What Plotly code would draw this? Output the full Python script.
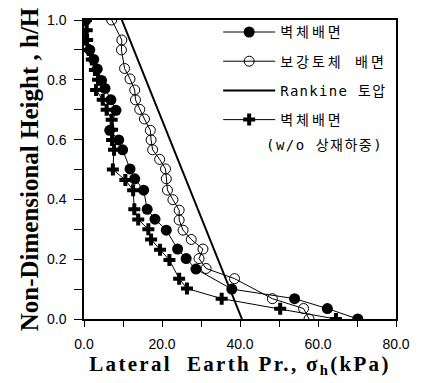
import plotly.graph_objects as go

# 벽체배면 (filled circles)
wall_x = [0.5, 0.0, 1.5, 2.5, 3.4, 4.5, 5.4, 6.9, 8.2, 6.6, 8.9, 9.9, 11.8, 13.0, 15.3,
          16.2, 18.2, 21.1, 24.0, 26.2, 28.7, 37.9, 54.0, 62.4, 70.2]
wall_h = [1.0, 0.933, 0.90, 0.868, 0.836, 0.798, 0.771, 0.733, 0.698, 0.631, 0.599, 0.566,
          0.502, 0.469, 0.431, 0.367, 0.334, 0.297, 0.234, 0.202, 0.167, 0.100, 0.068, 0.035, 0.0]

# 보강토체 배면 (open circles)
reinf_x = [7.1, 9.7, 9.6, 10.4, 11.8, 13.0, 13.2, 14.3, 15.5, 17.0, 17.2, 17.6, 19.4, 20.9,
           21.1, 21.4, 22.8, 24.4, 24.4, 25.4, 27.5, 30.5, 29.5, 31.3, 38.6, 48.3, 56.3, 57.7]
reinf_h = [1.0, 0.933, 0.90, 0.838, 0.803, 0.766, 0.733, 0.701, 0.669, 0.631, 0.599, 0.566,
           0.534, 0.502, 0.469, 0.431, 0.399, 0.364, 0.331, 0.297, 0.266, 0.234, 0.202, 0.169,
           0.135, 0.068, 0.035, 0.0]

# Rankine 토압
rankine_x = [9.7, 40.5]
rankine_h = [1.0, 0.0]

# 벽체배면 (w/o 상재하중) (crosses)
nosur_x = [0.5, 0.7, 0.8, 1.2, 2.0, 2.8, 3.6, 3.1, 4.8, 5.8, 7.1, 7.2, 7.2, 7.7, 7.4, 10.6,
           12.6, 12.9, 13.9, 16.5, 17.2, 19.5, 21.9, 24.4, 26.4, 35.3, 50.3, 64.6]
nosur_h = [1.0, 0.966, 0.933, 0.90, 0.868, 0.833, 0.80, 0.766, 0.733, 0.70, 0.666, 0.633,
           0.599, 0.566, 0.50, 0.465, 0.431, 0.367, 0.333, 0.30, 0.266, 0.232, 0.197, 0.135,
           0.102, 0.068, 0.034, 0.0]

x_ticks = [0, 20, 40, 60, 80]
x_ticklabels = ["0.0", "20.0", "40.0", "60.0", "80.0"]
y_ticks = [0, 0.2, 0.4, 0.6, 0.8, 1.0]
y_ticklabels = ["0.0", "0.2", "0.4", "0.6", "0.8", "1.0"]

names = ["벽체배면", "보강토체 배면", "Rankine 토압", "벽체배면"]
note = "(w/o 상재하중)"
x_title = "Lateral  Earth Pr., σ<sub>h</sub>(kPa)"
y_title = "Non-Dimensional Height , h/H"


def spaced(text, px):
    return '<span style="letter-spacing:%spx">%s</span>' % (px, text)


fig = go.Figure()
fig.add_trace(go.Scatter(x=wall_x, y=wall_h, mode="lines+markers", name=spaced(names[0], 3),
                         legendgroup="a",
                         line=dict(color="black", width=1),
                         marker=dict(symbol="circle", size=11, color="black")))
fig.add_trace(go.Scatter(x=reinf_x, y=reinf_h, mode="lines+markers", name=spaced(names[1], 3),
                         legendgroup="b",
                         line=dict(color="black", width=1),
                         marker=dict(symbol="circle-open", size=10, color="black",
                                     line=dict(width=1, color="black"))))
fig.add_trace(go.Scatter(x=rankine_x, y=rankine_h, mode="lines", name=spaced(names[2], 1.3),
                         legendgroup="c",
                         line=dict(color="black", width=2)))
fig.add_trace(go.Scatter(x=nosur_x, y=nosur_h, mode="lines+markers", name=spaced(names[3], 3),
                         legendgroup="d",
                         line=dict(color="black", width=1),
                         marker=dict(symbol="cross", size=10, color="black")))

fig.add_annotation(x=0.578, y=0.583, xref="paper", yref="paper", xanchor="left",
                   yanchor="middle", showarrow=False, text=spaced(note, 1.5),
                   font=dict(family="DejaVu Sans Mono, Noto Sans CJK KR", size=14,
                             color="black"))

fig.update_layout(
    width=422, height=383,
    margin=dict(l=84, r=14, t=13, b=61),
    paper_bgcolor="white", plot_bgcolor="white",
    showlegend=True,
    legend=dict(x=0.43, y=1.012, xanchor="left", yanchor="top", itemwidth=52,
                bgcolor="rgba(0,0,0,0)", traceorder="grouped", tracegroupgap=8,
                font=dict(family="DejaVu Sans Mono, Noto Sans CJK KR", size=14,
                          color="black")),
    xaxis=dict(range=[0, 80], tickvals=x_ticks, ticktext=x_ticklabels,
               ticks="outside", ticklen=6, tickcolor="black", tickwidth=1,
               ticklabelstandoff=5,
               minor=dict(dtick=10, ticks="outside", ticklen=6, tickcolor="black"),
               showline=True, linecolor="black", linewidth=1.5, mirror=True,
               showgrid=False, zeroline=False,
               tickfont=dict(family="Liberation Sans", size=14, color="black"),
               title=dict(text=spaced(x_title, 2.3), standoff=5,
                          font=dict(family="Liberation Serif", size=21, color="black",
                                    weight="bold"))),
    yaxis=dict(range=[0, 1.0], tickvals=y_ticks, ticktext=y_ticklabels,
               ticks="outside", ticklen=8, tickcolor="black", tickwidth=1,
               ticklabelstandoff=5,
               minor=dict(dtick=0.1, ticks="outside", ticklen=8, tickcolor="black"),
               showline=True, linecolor="black", linewidth=1.5, mirror=True,
               showgrid=False, zeroline=False,
               tickfont=dict(family="Liberation Sans", size=14, color="black"),
               title=dict(text=y_title, standoff=1,
                          font=dict(family="Liberation Serif", size=25, color="black",
                                    weight="bold"))),
)

fig.write_html("out.html")
